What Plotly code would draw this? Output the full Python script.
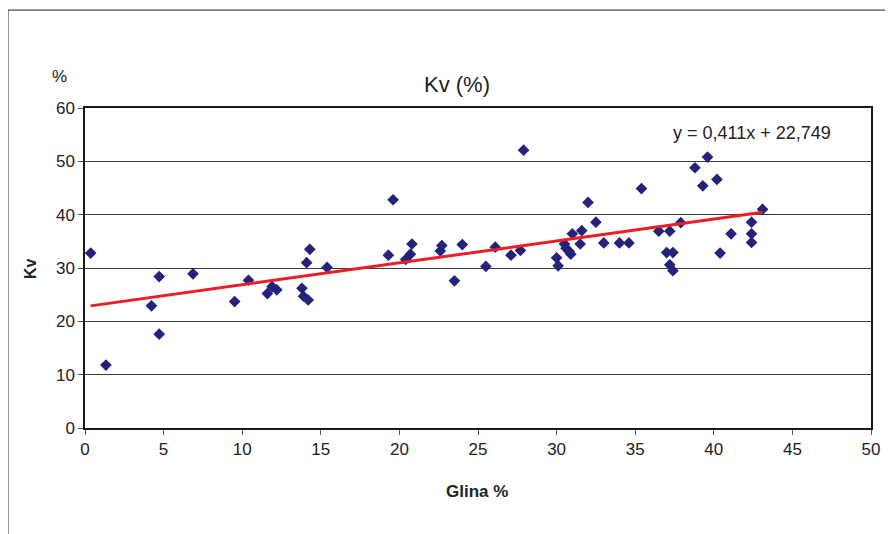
import plotly.graph_objects as go

glina = [0.36, 1.33, 4.23, 4.72, 4.72, 6.87, 9.52, 10.4, 11.6, 11.9, 12.2, 13.8, 13.9, 14.2,
         14.1, 14.3, 15.4, 19.3, 19.6, 20.4, 20.7, 20.8, 22.6, 22.7, 23.5, 24.0, 25.5, 26.1,
         27.1, 27.7, 27.9, 30.0, 30.1, 30.5, 30.6, 30.8, 30.9, 31.0, 31.6, 31.5, 32.0, 32.5,
         33.0, 34.0, 34.6, 35.4, 36.5, 37.2, 37.0, 37.4, 37.2, 37.4, 37.9, 38.8, 39.6, 39.3,
         40.2, 40.4, 41.1, 42.4, 42.4, 42.4, 43.1]
kv = [32.8, 11.8, 22.9, 28.4, 17.6, 28.9, 23.7, 27.7, 25.2, 26.5, 25.9, 26.2, 24.7, 24.0,
      31.0, 33.5, 30.1, 32.4, 42.8, 31.6, 32.6, 34.5, 33.2, 34.2, 27.6, 34.4, 30.3, 33.9,
      32.4, 33.3, 52.1, 31.9, 30.4, 34.5, 33.7, 33.1, 32.6, 36.4, 37.0, 34.5, 42.3, 38.6,
      34.7, 34.7, 34.7, 44.9, 36.9, 36.9, 32.9, 32.9, 30.6, 29.5, 38.5, 48.8, 50.8, 45.4,
      46.6, 32.8, 36.4, 38.6, 36.4, 34.8, 41.0]

slope = 0.411
intercept = 22.749
x_ticks = [0, 5, 10, 15, 20, 25, 30, 35, 40, 45, 50]
y_ticks = [0, 10, 20, 30, 40, 50, 60]

trend_x = [min(glina), max(glina)]
trend_y = [slope * v + intercept for v in trend_x]

FONT = "Liberation Sans Narrow, Arial Narrow, Liberation Sans, Arial, sans-serif"

fig = go.Figure()
fig.add_trace(go.Scatter(x=glina, y=kv, mode="markers",
                         marker=dict(symbol="diamond", size=9, color="#23237A"),
                         showlegend=False))
fig.add_trace(go.Scatter(x=trend_x, y=trend_y, mode="lines",
                         line=dict(color="#EE1C25", width=3), showlegend=False))

axis_common = dict(showline=True, linecolor="#1a1a1a", linewidth=1.5, mirror=True,
                   ticks="outside", ticklen=5, tickcolor="#555555",
                   tickfont=dict(family=FONT, size=17, color="#222222"), zeroline=False)

fig.update_xaxes(range=[0, 50], tickvals=x_ticks, showgrid=False, **axis_common)
fig.update_yaxes(range=[0, 60], tickvals=y_ticks, showgrid=True, gridcolor="#3a3a3a",
                 gridwidth=1, **axis_common)

def ann(text, x, y, size=15, bold=False, angle=0):
    fig.add_annotation(text=f"<b>{text}</b>" if bold else text, x=x, y=y,
                       xref="paper", yref="paper", xanchor="center", yanchor="middle",
                       showarrow=False, textangle=angle,
                       font=dict(family=FONT, size=size, color="#222222"))

ann("Kv (%)", 0.473, 1.072, size=22)
ann("%", -0.032, 1.097, size=17)
ann("y = 0,411x + 22,749", 0.849, 0.922, size=18)
ann("Kv", -0.07, 0.5, size=16, bold=True, angle=-90)
ann("Glina %", 0.4987, -0.197, size=17, bold=True)

# outer frame (left and top)
fig.add_shape(type="line", xref="paper", yref="paper", x0=-0.098, x1=-0.098,
              y0=1.306, y1=-0.4, line=dict(color="#222222", width=1))
fig.add_shape(type="line", xref="paper", yref="paper", x0=-0.098, x1=1.05,
              y0=1.306, y1=1.306, line=dict(color="#222222", width=1))

# page has an 8px body offset: shift the layout up/left to compensate
fig.update_layout(width=893, height=534, margin=dict(l=77, r=30, t=100, b=114),
                  paper_bgcolor="white", plot_bgcolor="white")

fig.write_html("out.html")
